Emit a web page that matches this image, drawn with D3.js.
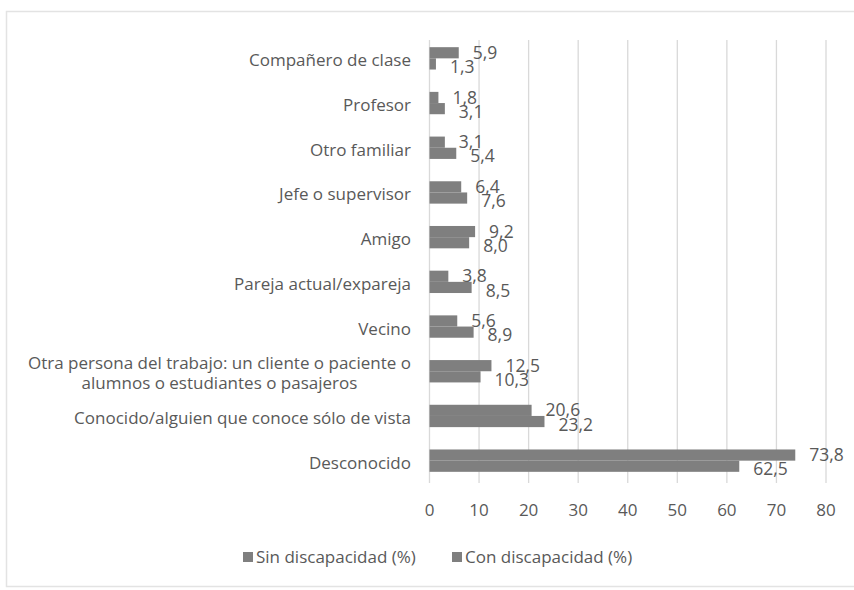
<!DOCTYPE html>
<html>
<head>
<meta charset="utf-8">
<script src="https://cdn.jsdelivr.net/npm/d3@7"></script>
<style>
  body { margin: 0; background: #fff; }
  svg text { font-family: 'Open Sans', sans-serif; fill: #595959; }
</style>
</head>
<body>
<svg id="chart" width="854" height="590"></svg>
<script>
const categories = [
  ['Compañero de clase'],
  ['Profesor'],
  ['Otro familiar'],
  ['Jefe o supervisor'],
  ['Amigo'],
  ['Pareja actual/expareja'],
  ['Vecino'],
  ['Otra persona del trabajo: un cliente o paciente o', 'alumnos o estudiantes o pasajeros'],
  ['Conocido/alguien que conoce sólo de vista'],
  ['Desconocido']
];
const sinValues = [5.9, 1.8, 3.1, 6.4, 9.2, 3.8, 5.6, 12.5, 20.6, 73.8];
const conValues = [1.3, 3.1, 5.4, 7.6, 8.0, 8.5, 8.9, 10.3, 23.2, 62.5];
const seriesNames = ['Sin discapacidad (%)', 'Con discapacidad (%)'];
const xTicks = [0, 10, 20, 30, 40, 50, 60, 70, 80];

const svg = d3.select('#chart');
const fmt = (v) => v.toFixed(1).replace('.', ',');
const fontSize = 17;

// chart frame
svg.append('rect')
  .attr('x', 6.5).attr('y', 11.5)
  .attr('width', 860).attr('height', 575)
  .attr('fill', 'none').attr('stroke', '#e3e3e3').attr('stroke-width', 1.5);

let x = d3.scaleLinear().domain([0, 80]).range([429.5, 826]);
let y = d3.scaleBand()
  .domain(d3.range(categories.length))
  .range([36, 483])
  .paddingInner(0.5).paddingOuter(0.25);

// gridlines
svg.append('g')
  .selectAll('line')
  .data(xTicks)
  .join('line')
  .attr('x1', (d) => x(d)).attr('x2', (d) => x(d))
  .attr('y1', 40).attr('y2', 483)
  .attr('stroke', '#d9d9d9').attr('stroke-width', 1.3);

// tick labels
svg.append('g')
  .selectAll('text')
  .data(xTicks)
  .join('text')
  .attr('x', (d) => x(d))
  .attr('y', 510)
  .attr('dy', '0.35em')
  .attr('text-anchor', 'middle')
  .attr('font-size', fontSize)
  .text((d) => d);

// category labels
const labelRight = 411;
categories.forEach((lines, i) => {
  const cy = y(i) + y.bandwidth() / 2;
  const g = svg.append('g');
  const lh = 20;
  const texts = lines.map((ln, j) =>
    g.append('text')
      .attr('y', cy + (j - (lines.length - 1) / 2) * lh + 2)
      .attr('dy', '0.35em')
      .attr('font-size', fontSize)
      .text(ln));
  const maxW = d3.max(texts, (t) => t.node().getComputedTextLength());
  texts.forEach((t) => {
    t.attr('x', labelRight - maxW / 2).attr('text-anchor', 'middle');
  });
});

const barH = y.bandwidth() / 2;

// bars
[sinValues, conValues].forEach((vals, s) => {
  svg.append('g')
    .selectAll('rect')
    .data(vals)
    .join('rect')
    .attr('x', x(0))
    .attr('y', (d, i) => y(i) + s * barH)
    .attr('width', (d) => x(d) - x(0))
    .attr('height', barH)
    .attr('fill', '#7f7f7f');

  svg.append('g')
    .selectAll('text')
    .data(vals)
    .join('text')
    .attr('x', (d) => x(d) + 14)
    .attr('y', (d, i) => y(i) + s * barH + barH / 2 + (s === 0 ? 0 : 3))
    .attr('dy', '0.35em')
    .attr('font-size', 17.5)
    .text((d) => fmt(d));
});

// legend
const legendX = [243, 452];
seriesNames.forEach((name, i) => {
  svg.append('rect')
    .attr('x', legendX[i]).attr('y', 552)
    .attr('width', 10).attr('height', 10)
    .attr('fill', '#7f7f7f');
  svg.append('text')
    .attr('x', legendX[i] + 13).attr('y', 557)
    .attr('dy', '0.35em')
    .attr('font-size', fontSize)
    .text(name);
});
</script>
</body>
</html>
